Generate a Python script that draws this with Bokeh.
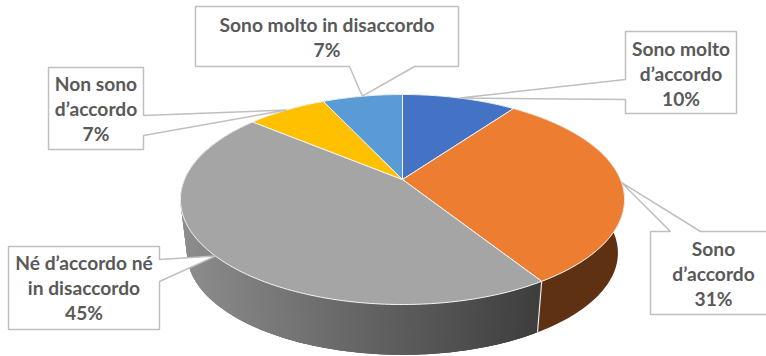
import numpy as np
from bokeh.core.properties import value
from bokeh.embed import file_html
from bokeh.models import Range1d
from bokeh.plotting import figure
from bokeh.resources import INLINE

# Survey answers, clockwise from twelve o'clock
labels = [
    ["Sono molto", "d’accordo"],
    ["Sono", "d’accordo"],
    ["Né d’accordo né", "in disaccordo"],
    ["Non sono", "d’accordo"],
    ["Sono molto in disaccordo"],
]
shares = [10, 31, 45, 7, 7]
top_colors = ["#4472C4", "#ED7D31", "#A5A5A5", "#FFC000", "#5B9BD5"]
wall_shades = [("#2A4478", "#2A4478"), ("#5E3112", "#5E3112"),
               ("#8E8E8E", "#3E3E3E"), ("#987300", "#987300"), ("#36638C", "#36638C")]

# Callout boxes: left, top, right, bottom, then the two points where the
# pointer leaves the box, and the y of the first text line
boxes = [
    (625, 31, 736, 113, (625, 99), (625, 79), 47.5),
    (650, 231, 776, 314, (670, 231), (700, 231), 247.5),
    (8, 246, 159, 329, (159, 281), (159, 259), 261.5),
    (48, 67, 143, 149, (143, 135), (143, 115), 82.5),
    (195, 6, 458, 66, (349, 66), (414, 66), 23.5),
]

# Perspective disc: screen position of the centre, radii, foreshortening
CX, CY, RX, RY, K = 402.0, 179.0, 218.0, 101.2, 0.1905
DROP, SHRINK = 54.0, 0.97


def rim(frac, drop=0.0, scale=1.0):
    """Screen position of the disc edge at a fraction of the full turn."""
    theta = 2 * np.pi * np.asarray(frac, dtype=float)
    u, v = np.sin(theta), np.cos(theta)
    w = 1 + K * v
    return CX + scale * RX * u / w, CY + drop - scale * RY * v / w


def mix(c0, c1, t):
    a = [int(c0[i:i + 2], 16) for i in (1, 3, 5)]
    b = [int(c1[i:i + 2], 16) for i in (1, 3, 5)]
    return "#%02x%02x%02x" % tuple(int(round(x + (y - x) * t)) for x, y in zip(a, b))


p = figure(width=766, height=356, output_backend="svg", toolbar_location=None,
           x_range=Range1d(0, 766), y_range=Range1d(356, 0), min_border=0,
           outline_line_color=None, background_fill_color="white",
           border_fill_color="white")
p.axis.visible = False
p.grid.visible = False

edges = np.cumsum([0] + shares) / sum(shares)

# Outer wall: one solid band per slice, with overlapping strips on top where
# the shade runs left to right
GRAD_L, GRAD_R = 183.0, 536.0
for i, (a, b) in enumerate(zip(edges[:-1], edges[1:])):
    fr = np.linspace(a, b, max(8, int((b - a) * 360)))
    tx, ty = rim(fr)
    bx, by = rim(fr, DROP, SHRINK)
    c0, c1 = wall_shades[i]
    p.patch(np.r_[tx, bx[::-1]], np.r_[ty, by[::-1]], fill_color=mix(c0, c1, 0.5),
            line_color=None)
    if c0 != c1:
        for j in range(len(fr) - 1):
            stop = min(j + 2, len(fr) - 1)
            t = np.clip((bx[j] - GRAD_L) / (GRAD_R - GRAD_L), 0, 1)
            col = mix(c0, c1, t)
            p.patch([tx[j], tx[stop], bx[stop], bx[j]], [ty[j], ty[stop], by[stop], by[j]],
                    fill_color=col, line_color=None)

# Seam between the orange and grey walls
sx0, sy0 = rim(edges[2])
sx1, sy1 = rim(edges[2], DROP, SHRINK)
p.line([sx0, sx1], [sy0, sy1], line_color="#E8E8E8", line_width=1.2)

# Top face
for a, b, col in zip(edges[:-1], edges[1:], top_colors):
    fr = np.linspace(a, b, max(8, int((b - a) * 360)))
    x, y = rim(fr)
    p.patch(np.r_[CX, x], np.r_[CY, y], fill_color=col, line_color="#F4F4F4", line_width=1)

# Callouts whose pointers end at the middle of each slice's rim
for i, (box, lines) in enumerate(zip(boxes, labels)):
    left, top, right, bottom, q0, q1, first = box
    tx, ty = rim((edges[i] + edges[i + 1]) / 2)
    outline = {
        0: [(left, top), (right, top), (right, bottom), (left, bottom), q0, (tx, ty), q1],
        1: [(left, top), q0, (tx, ty), q1, (right, top), (right, bottom), (left, bottom)],
        2: [(left, top), (right, top), q1, (tx, ty), q0, (right, bottom), (left, bottom)],
        3: [(left, top), (right, top), q1, (tx, ty), q0, (right, bottom), (left, bottom)],
        4: [(left, top), (right, top), (right, bottom), q1, (tx, ty), q0, (left, bottom)],
    }[i]
    p.patch([c[0] for c in outline], [c[1] for c in outline], fill_color="white",
            line_color="#BFBFBF", line_width=1.5)
    rows = lines + [f"{shares[i]}%"]
    centre = (left + right) / 2
    p.text([centre] * len(rows), [first + 25.3 * n for n in range(len(rows))], text=rows,
           text_font=value("Lato"), text_font_style="bold", text_font_size="19.2px",
           text_color="#595959", text_align="center", text_baseline="middle")

open("out.html", "w").write(file_html(p, INLINE))
